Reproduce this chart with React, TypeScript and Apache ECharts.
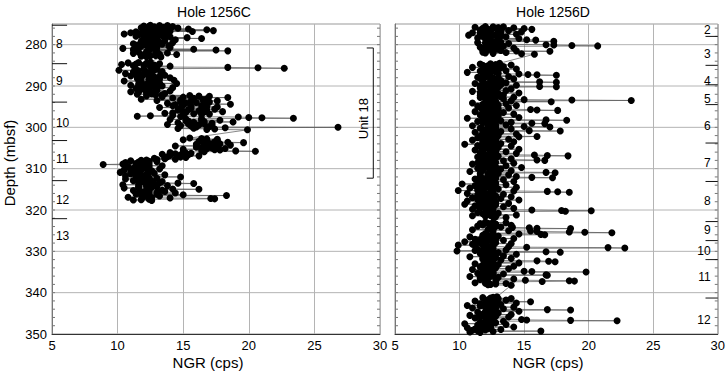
import React, { useEffect, useRef } from "react";
import * as echarts from "echarts";

const FONT = '"Liberation Sans", Arial, Helvetica, sans-serif';

const X_MIN = 5;
const X_MAX = 30;
const X_INTERVAL = 5;
const DEPTH_MIN = 275;
const DEPTH_MAX = 350;
const DEPTH_STEP = 5;

const titles = ["Hole 1256C", "Hole 1256D"];
const gridDepths = [280, 290, 300, 310, 320, 330, 340];
const minorDepths = [276, 278, 280, 282, 284, 286, 288, 290, 292, 294, 296, 298, 300, 302, 304, 306, 308, 310, 312, 314, 316, 318, 320, 322, 324, 326, 328, 330, 332, 334, 336, 338, 340, 342, 344, 346, 348];

// Hole 1256C core boundaries / labels (depth, mbsf)
const coreBoundsC = [275.3, 284.6, 293.9, 303.2, 312.9, 322.1];
const coreLabelsC = ["8", "9", "10", "11", "12", "13"];
const coreLabelDepthsC = [279.8, 288.9, 298.9, 307.7, 317.5, 326.2];

// Hole 1256D core boundaries / labels
const coreBoundsD = [278.0, 285.0, 289.7, 294.5, 303.8, 313.1, 322.8, 327.4, 332.0, 341.3];
const coreLabelsD = ["2", "3", "4", "5", "6", "7", "8", "9", "10", "11", "12"];
const coreLabelDepthsD = [276.4, 282.2, 288.9, 293.1, 299.7, 308.6, 317.9, 324.8, 330.0, 336.2, 346.5];

// Unit bracket
const unitName = "Unit 18";
const unitTop = 280.8;
const unitBottom = 312.3;
const unitLabelDepth = 297.9;

// Hole 1256C: [depth (mbsf), NGR (cps)]
const c8: [number, number][] = [
  [275.3, 12.5], [275.4, 13.8], [275.5, 12.0], [275.6, 14.2], [275.7, 12.8], [275.8, 13.5], [275.9, 11.8], [276.0, 14.6],
  [276.1, 13.0], [276.2, 15.4], [276.3, 12.4], [276.4, 16.8], [276.5, 13.2], [276.6, 17.3], [276.7, 12.6], [276.8, 15.7],
  [276.9, 11.4], [277.0, 13.6], [277.1, 11.0], [277.2, 12.9], [277.4, 10.5], [277.5, 12.2], [277.6, 11.6], [277.8, 13.4],
  [277.9, 12.0], [278.1, 14.0], [278.2, 12.5], [278.3, 15.3], [278.4, 12.8], [278.5, 16.4], [278.6, 13.0], [278.8, 14.4],
  [278.9, 11.9], [279.1, 13.6], [279.3, 12.3], [279.5, 14.2], [279.7, 12.0], [279.9, 13.4], [280.1, 11.5], [280.3, 13.9],
  [280.5, 12.6], [280.7, 14.0], [280.9, 10.4], [281.0, 12.8], [281.1, 15.8], [281.2, 11.2], [281.3, 17.5], [281.4, 12.4],
  [281.5, 18.4], [281.6, 13.0], [281.8, 11.6], [282.0, 13.8], [282.2, 12.2], [282.4, 14.5], [282.6, 12.9], [282.8, 11.8],
  [283.0, 13.3],
];
const c8x: [number, number][] = [
  [275.35, 13.2], [275.55, 12.4], [275.75, 13.9], [275.95, 12.7], [276.15, 13.5], [276.35, 11.9], [276.55, 12.8], [276.75, 14.0],
  [276.95, 12.3], [277.15, 13.1], [277.35, 11.8], [277.55, 12.6], [277.75, 13.8], [277.95, 11.4], [278.15, 12.9], [278.35, 13.6],
  [278.55, 12.2], [278.75, 13.0], [278.95, 12.6], [279.2, 11.8], [279.4, 13.2], [279.6, 12.5], [279.8, 11.2], [280.0, 12.8],
  [280.2, 12.2], [280.4, 11.8], [280.6, 13.0], [280.8, 11.6], [281.7, 12.2], [281.9, 12.9], [282.1, 11.2], [282.3, 13.2],
  [282.5, 11.9], [282.7, 12.5], [282.9, 12.2],
];
const c9: [number, number][] = [
  [284.2, 12.5], [284.4, 10.8], [284.6, 13.2], [284.8, 10.3], [285.0, 12.0], [285.2, 14.0], [285.4, 12.5], [285.5, 18.4],
  [285.6, 20.7], [285.7, 22.7], [285.8, 13.0], [286.0, 11.4], [286.2, 10.1], [286.4, 12.6], [286.6, 11.2], [286.8, 13.3],
  [287.0, 10.6], [287.2, 12.0], [287.4, 13.6], [287.6, 11.0], [287.8, 12.8], [288.0, 14.0], [288.2, 11.5], [288.4, 12.4],
  [288.6, 14.3], [288.8, 10.5], [289.0, 13.0], [289.2, 11.8], [289.4, 14.5], [289.6, 12.2], [289.8, 11.0], [290.0, 13.4],
  [290.2, 12.0], [290.4, 14.2], [290.6, 11.4], [290.8, 13.0], [291.0, 12.2], [291.2, 14.0], [291.4, 11.0], [291.6, 12.8],
  [291.8, 13.6], [292.0, 11.5], [292.2, 12.9],
];
const c9x: [number, number][] = [
  [284.3, 11.6], [284.5, 12.2], [284.7, 11.4], [284.9, 12.8], [285.1, 11.2], [285.3, 13.0], [285.9, 12.0], [286.1, 12.8],
  [286.3, 11.6], [286.5, 13.4], [286.7, 12.2], [286.9, 11.6], [287.1, 12.6], [287.3, 11.4], [287.5, 12.4], [287.7, 13.2],
  [287.9, 11.8], [288.1, 12.6], [288.3, 13.2], [288.5, 11.6], [288.7, 12.4], [288.9, 11.8], [289.1, 12.8], [289.3, 13.2],
  [289.5, 11.6], [289.7, 12.6], [289.9, 12.2], [290.1, 11.6], [290.3, 12.8], [290.5, 13.0], [290.7, 11.8], [290.9, 12.4],
  [291.1, 13.0], [291.3, 12.2], [291.5, 11.6], [291.7, 12.2], [291.9, 12.6], [292.1, 13.4],
];
const c10: [number, number][] = [
  [292.3, 15.5], [292.4, 12.2], [292.5, 17.0], [292.6, 13.4], [292.8, 18.4], [292.9, 14.2], [293.0, 15.8], [293.2, 11.8],
  [293.3, 16.5], [293.5, 13.0], [293.6, 17.6], [293.8, 14.8], [294.0, 16.0], [294.2, 13.8], [294.4, 18.6], [294.6, 15.0],
  [294.8, 14.2], [295.0, 16.8], [295.2, 13.2], [295.4, 15.6], [295.6, 17.4], [295.8, 14.6], [296.0, 16.2], [296.2, 18.0],
  [296.4, 15.2], [296.6, 13.6], [296.8, 17.0], [297.0, 15.0], [297.2, 12.5], [297.3, 11.5], [297.4, 14.8], [297.5, 19.2],
  [297.6, 20.0], [297.7, 21.0], [297.8, 23.4], [297.9, 16.4], [298.1, 14.0], [298.3, 17.8], [298.5, 15.4], [298.7, 18.8],
  [298.9, 14.6], [299.1, 16.6], [299.3, 13.8], [299.5, 17.2], [299.7, 15.6], [299.9, 16.0], [300.0, 26.8], [300.1, 18.2],
  [300.3, 14.6], [300.5, 16.8], [300.6, 19.9],
];
const c10x: [number, number][] = [
  [292.45, 16.2], [292.7, 15.0], [293.1, 16.8], [293.4, 14.8], [293.7, 15.6], [293.9, 17.0], [294.1, 15.2], [294.3, 16.6],
  [294.5, 14.4], [294.7, 16.4], [294.9, 15.6], [295.1, 17.6], [295.3, 14.8], [295.5, 16.4], [295.7, 15.4], [295.9, 16.8],
  [296.1, 15.0], [296.3, 16.6], [296.5, 14.2], [296.7, 15.8], [296.9, 16.4], [297.1, 14.2], [298.0, 15.2], [298.2, 16.4],
  [298.4, 15.2], [298.6, 16.6], [298.8, 15.8], [299.0, 17.2], [299.2, 15.4], [299.4, 16.2], [299.6, 14.8], [299.8, 17.0],
  [300.2, 15.8], [300.4, 17.4],
];
const c11: [number, number][] = [
  [302.6, 15.5], [302.8, 16.8], [303.0, 15.0], [303.2, 17.6], [303.4, 16.2], [303.6, 18.4], [303.7, 19.6], [303.9, 17.0],
  [304.1, 16.0], [304.3, 18.6], [304.5, 14.4], [304.7, 17.4], [304.9, 16.4], [305.1, 18.2], [305.3, 15.0], [305.5, 17.8],
  [305.7, 19.0], [305.8, 20.5], [305.9, 16.6], [306.1, 14.0], [306.3, 15.6], [306.5, 13.4], [306.7, 14.8], [306.9, 16.2],
  [307.1, 13.8], [307.3, 15.2], [307.5, 12.8], [307.7, 14.4], [307.9, 12.2], [308.1, 11.0], [308.3, 13.0], [308.5, 10.6],
  [308.7, 12.4], [308.9, 10.4], [309.0, 8.9], [309.1, 11.6], [309.3, 13.4], [309.5, 10.8], [309.7, 12.0], [309.9, 11.2],
  [310.1, 13.2], [310.3, 10.5], [310.5, 12.6], [310.7, 11.4], [310.9, 10.2], [311.1, 12.8], [311.3, 11.0], [311.5, 13.6],
  [311.7, 10.6], [311.9, 12.2], [312.0, 14.8], [312.1, 11.6], [312.3, 13.0], [312.5, 10.6], [312.7, 12.4], [312.9, 11.2],
  [313.1, 13.4],
];
const c11x: [number, number][] = [
  [302.7, 16.4], [302.9, 17.6], [303.1, 16.6], [303.3, 16.8], [303.5, 17.4], [303.8, 16.6], [304.0, 17.8], [304.2, 17.2],
  [304.4, 16.8], [304.6, 17.6], [304.8, 16.0], [305.0, 17.2], [305.2, 16.8], [305.4, 17.4], [305.6, 16.4], [306.0, 15.0],
  [306.2, 15.2], [306.4, 14.4], [306.6, 15.4], [306.8, 14.0], [307.0, 14.6], [307.2, 14.8], [307.4, 13.6], [307.6, 13.6],
  [307.8, 13.0], [308.0, 11.8], [308.2, 12.4], [308.4, 11.6], [308.6, 12.0], [308.8, 11.4], [309.2, 12.4], [309.4, 11.8],
  [309.6, 12.4], [309.8, 11.6], [310.0, 12.2], [310.2, 11.6], [310.4, 11.8], [310.6, 11.0], [310.8, 12.4], [311.0, 11.6],
  [311.2, 11.4], [311.4, 12.2], [311.6, 11.8], [311.8, 11.4], [312.2, 12.4], [312.4, 11.8], [312.6, 12.2], [312.8, 11.6],
  [313.0, 12.6], [313.2, 11.6],
];
const c12: [number, number][] = [
  [313.3, 12.0], [313.5, 14.6], [313.6, 15.8], [313.7, 12.8], [313.9, 10.4], [314.1, 13.8], [314.3, 11.6], [314.5, 12.6],
  [314.7, 10.5], [314.9, 14.2], [315.0, 16.2], [315.1, 12.2], [315.3, 11.2], [315.5, 13.6], [315.7, 12.0], [315.9, 14.4],
  [316.1, 11.4], [316.3, 15.0], [316.5, 18.3], [316.6, 13.2], [316.8, 12.0], [316.9, 10.8], [317.1, 14.0], [317.2, 17.1],
  [317.3, 17.4], [317.4, 12.4], [317.6, 11.2],
];
const c12x: [number, number][] = [
  [313.4, 13.2], [313.8, 11.6], [314.0, 12.4], [314.2, 12.2], [314.4, 13.0], [314.6, 11.6], [314.8, 12.4], [315.2, 13.4],
  [315.4, 12.4], [315.6, 11.8], [315.8, 13.0], [316.0, 12.4], [316.2, 13.0], [316.4, 11.8], [316.7, 12.4], [317.0, 12.6],
  [317.5, 11.8], [317.7, 12.6],
];

// Hole 1256D: [depth (mbsf), NGR (cps)]
const d2to3: [number, number][] = [
  [275.6, 12.0], [275.7, 13.4], [275.8, 11.2], [275.9, 14.2], [276.0, 12.6], [276.1, 15.0], [276.2, 13.0], [276.3, 15.6],
  [276.5, 11.6], [276.6, 13.8], [276.8, 12.2], [276.9, 14.8], [277.1, 11.0], [277.2, 13.2], [277.4, 12.4], [277.5, 14.4],
  [277.7, 10.7], [277.8, 12.8], [278.0, 11.8], [278.1, 13.6], [278.3, 12.4], [278.5, 14.6], [278.6, 12.0], [278.8, 15.2],
  [278.9, 15.9], [279.0, 13.0], [279.2, 17.3], [279.3, 12.6], [279.5, 11.4], [279.7, 13.8], [279.8, 12.2], [280.0, 16.7],
  [280.1, 17.3], [280.2, 18.7], [280.3, 20.7], [280.4, 13.4], [280.6, 11.6], [280.8, 14.2], [280.9, 12.4], [281.1, 13.0],
  [281.3, 11.8], [281.5, 14.4], [281.6, 17.0], [281.7, 12.6], [281.9, 13.6], [282.0, 12.0], [282.2, 14.8], [282.3, 15.8],
];
const d2to3x: [number, number][] = [
  [275.65, 12.6], [275.85, 13.0], [276.05, 11.8], [276.25, 12.2], [276.45, 13.2], [276.7, 12.4], [276.95, 13.0], [277.15, 12.0],
  [277.35, 11.6], [277.6, 12.8], [277.9, 13.2], [278.2, 12.2], [278.4, 11.4], [278.7, 13.0], [279.1, 12.4], [279.4, 13.2],
  [279.6, 12.0], [279.9, 13.0], [280.5, 12.6], [280.7, 12.0], [281.0, 12.8], [281.2, 12.2], [281.4, 13.2], [281.8, 11.8],
  [282.1, 12.6],
];
const d4to6: [number, number][] = [
  [284.5, 13.1], [284.7, 11.6], [284.9, 14.0], [285.1, 12.2], [285.3, 13.4], [285.5, 11.0], [285.7, 12.8], [285.9, 14.4],
  [286.1, 11.8], [286.3, 13.6], [286.5, 12.4], [286.7, 10.6], [286.9, 13.0], [287.1, 14.6], [287.2, 15.3], [287.3, 16.0],
  [287.4, 17.5], [287.5, 12.0], [287.7, 13.8], [287.9, 11.4], [288.1, 12.6], [288.3, 14.2], [288.5, 11.8], [288.7, 13.2],
  [288.9, 12.4], [289.0, 16.2], [289.1, 17.5], [289.2, 13.6], [289.4, 11.2], [289.6, 12.8], [289.8, 14.4], [290.0, 12.0],
  [290.1, 16.2], [290.2, 17.5], [290.3, 13.0], [290.5, 11.6], [290.7, 14.0], [290.9, 12.6], [291.1, 13.6], [291.3, 11.0],
  [291.5, 12.8], [291.7, 14.6], [291.9, 12.2], [292.1, 13.4], [292.3, 11.6], [292.5, 12.8], [292.7, 14.2], [292.9, 12.0],
  [293.1, 13.4], [293.3, 15.0], [293.4, 18.7], [293.5, 23.3], [293.6, 14.0], [293.8, 17.1], [293.9, 12.4], [294.1, 11.0],
  [294.3, 13.6], [294.5, 12.2], [294.7, 14.4], [294.9, 11.4], [295.1, 12.8], [295.3, 13.8], [295.5, 11.8], [295.7, 15.5],
  [295.8, 16.0], [295.9, 17.6], [296.0, 12.6], [296.2, 11.2], [296.4, 13.4], [296.6, 12.0], [296.8, 14.2], [297.0, 11.6],
  [297.2, 13.0], [297.4, 12.4], [297.6, 14.6], [297.8, 10.6], [298.0, 12.8], [298.2, 16.7], [298.3, 18.3], [298.4, 13.2],
  [298.6, 11.4], [298.8, 14.0], [299.0, 15.6], [299.1, 16.6], [299.2, 12.2], [299.4, 13.6], [299.6, 11.0], [299.8, 15.0],
  [299.9, 17.0], [300.0, 12.8], [300.2, 11.6], [300.4, 14.0], [300.6, 12.4], [300.8, 15.4], [300.9, 17.8], [301.0, 13.2],
  [301.2, 11.2], [301.4, 12.6], [301.6, 14.4], [301.8, 12.0], [302.0, 13.0], [302.2, 16.0], [302.3, 14.6], [302.5, 11.4],
  [302.7, 12.8], [302.9, 13.8], [303.1, 11.0], [303.3, 12.6], [303.5, 14.2], [303.7, 11.8],
];
const d4to6x: [number, number][] = [
  [284.6, 12.4], [284.8, 12.8], [285.0, 11.8], [285.2, 12.6], [285.4, 12.0], [285.6, 13.2], [285.8, 12.2], [286.0, 12.8],
  [286.2, 12.4], [286.4, 11.6], [286.6, 12.8], [286.8, 12.2], [287.0, 11.8], [287.6, 12.4], [287.8, 12.0], [288.0, 13.0],
  [288.2, 11.6], [288.4, 12.4], [288.6, 12.8], [288.8, 11.8], [289.3, 12.4], [289.5, 12.0], [289.7, 13.2], [289.9, 11.6],
  [290.4, 12.4], [290.6, 12.8], [290.8, 11.8], [291.0, 12.4], [291.2, 12.8], [291.4, 12.2], [291.6, 11.6], [291.8, 13.0],
  [292.0, 11.8], [292.2, 12.6], [292.4, 12.2], [292.6, 13.2], [292.8, 11.6], [293.0, 12.4], [293.2, 12.0], [293.7, 12.8],
  [294.0, 12.2], [294.2, 12.6], [294.4, 11.8], [294.6, 13.0], [294.8, 12.4], [295.0, 12.0], [295.2, 11.6], [295.4, 12.6],
  [295.6, 13.0], [296.1, 12.2], [296.3, 12.6], [296.5, 11.8], [296.7, 12.4], [296.9, 13.0], [297.1, 12.6], [297.3, 11.8],
  [297.5, 12.8], [297.7, 12.2], [297.9, 11.8], [298.1, 12.4], [298.5, 12.2], [298.7, 12.8], [298.9, 11.8], [299.3, 12.4],
  [299.5, 12.8], [299.7, 12.2], [300.1, 12.4], [300.3, 12.8], [300.5, 11.8], [300.7, 12.6], [301.1, 12.2], [301.3, 12.8],
  [301.5, 11.8], [301.7, 12.6], [301.9, 12.8], [302.1, 11.6], [302.4, 12.4], [302.6, 12.2], [302.8, 11.8], [303.0, 12.4],
  [303.2, 12.8], [303.4, 11.8], [303.6, 12.6], [303.8, 12.2],
];
const d7to8: [number, number][] = [
  [303.9, 13.2], [304.1, 10.4], [304.3, 12.4], [304.5, 14.0], [304.7, 11.6], [304.9, 13.0], [305.1, 12.2], [305.3, 14.6],
  [305.5, 11.2], [305.7, 12.8], [305.9, 13.6], [306.1, 11.8], [306.3, 14.4], [306.5, 12.4], [306.7, 15.8], [306.8, 16.8],
  [306.9, 18.4], [307.0, 13.0], [307.2, 11.4], [307.4, 12.6], [307.6, 14.0], [307.8, 12.2], [307.9, 16.0], [308.0, 16.6],
  [308.1, 13.4], [308.3, 11.6], [308.5, 12.8], [308.7, 14.2], [308.9, 11.0], [309.1, 12.6], [309.3, 13.6], [309.5, 12.0],
  [309.7, 14.8], [309.9, 11.4], [310.1, 13.2], [310.3, 12.4], [310.5, 14.0], [310.7, 10.8], [310.9, 16.7], [311.0, 17.4],
  [311.1, 13.0], [311.3, 12.2], [311.5, 13.8], [311.7, 11.6], [311.9, 14.4], [312.1, 15.6], [312.2, 17.2], [312.3, 12.8],
  [312.5, 11.2], [312.7, 13.4], [312.9, 12.0], [313.1, 14.2], [313.3, 11.6], [313.5, 12.8], [313.7, 10.2], [313.9, 13.6],
  [314.1, 11.2], [314.3, 12.4], [314.5, 14.4], [314.7, 10.8], [314.9, 13.0], [315.1, 11.8], [315.3, 9.9], [315.4, 14.2],
  [315.5, 16.8], [315.6, 17.6], [315.7, 18.5], [315.8, 12.6], [316.0, 10.6], [316.2, 13.4], [316.4, 11.4], [316.6, 12.8],
  [316.8, 14.0], [317.0, 11.0], [317.2, 13.2], [317.4, 12.2], [317.6, 14.6], [317.8, 10.6], [318.0, 12.8], [318.2, 11.6],
  [318.4, 13.8], [318.6, 10.4], [318.8, 12.4], [319.0, 11.2], [319.2, 13.4], [319.4, 12.0], [319.6, 14.2], [319.8, 11.0],
  [320.0, 15.6], [320.1, 17.9], [320.2, 20.2], [320.3, 18.2], [320.4, 12.6], [320.6, 11.4], [320.8, 13.0], [321.0, 12.2],
  [321.2, 14.4], [321.4, 11.0], [321.6, 12.8], [321.8, 13.6],
];
const d7to8x: [number, number][] = [
  [304.0, 12.0], [304.2, 12.8], [304.4, 11.4], [304.6, 12.6], [304.8, 12.2], [305.0, 11.8], [305.2, 12.8], [305.4, 12.4],
  [305.6, 11.8], [305.8, 12.4], [306.0, 12.8], [306.2, 11.6], [306.4, 12.8], [306.6, 12.0], [307.1, 12.4], [307.3, 11.8],
  [307.5, 12.8], [307.7, 12.2], [308.2, 12.4], [308.4, 12.0], [308.6, 11.4], [308.8, 12.6], [309.0, 12.2], [309.2, 11.6],
  [309.4, 12.4], [309.6, 12.8], [309.8, 12.2], [310.0, 11.8], [310.2, 12.6], [310.4, 11.8], [310.6, 12.4], [310.8, 12.8],
  [311.2, 11.6], [311.4, 12.4], [311.6, 12.8], [311.8, 12.2], [312.0, 12.6], [312.4, 11.8], [312.6, 12.4], [312.8, 11.4],
  [313.0, 12.6], [313.2, 12.2], [313.4, 11.8], [313.6, 12.4], [313.8, 11.6], [314.0, 12.2], [314.2, 11.8], [314.4, 12.8],
  [314.6, 12.0], [314.8, 11.6], [315.0, 12.4], [315.2, 11.4], [315.9, 11.8], [316.1, 12.2], [316.3, 12.0], [316.5, 11.6],
  [316.7, 12.4], [316.9, 12.2], [317.1, 12.6], [317.3, 11.8], [317.5, 11.4], [317.7, 12.2], [317.9, 11.8], [318.1, 12.4],
  [318.3, 12.0], [318.5, 11.6], [318.7, 12.8], [318.9, 12.2], [319.1, 11.8], [319.3, 12.4], [319.5, 11.6], [319.7, 12.6],
  [319.9, 12.2], [320.5, 12.0], [320.7, 12.4], [320.9, 11.8], [321.1, 12.6], [321.3, 12.4], [321.5, 12.0], [321.7, 12.6],
];
const d9to11: [number, number][] = [
  [322.9, 12.0], [323.1, 13.6], [323.3, 11.6], [323.5, 12.8], [323.7, 14.0], [323.9, 11.4], [324.1, 13.2], [324.2, 14.1],
  [324.3, 15.4], [324.4, 16.0], [324.5, 18.6], [324.6, 12.4], [324.8, 11.0], [325.0, 13.8], [325.1, 15.5], [325.2, 16.0],
  [325.3, 18.5], [325.4, 19.7], [325.5, 21.8], [325.6, 12.6], [325.8, 14.6], [325.9, 16.3], [326.0, 16.6], [326.1, 11.8],
  [326.3, 13.0], [326.5, 10.8], [326.7, 12.4], [326.9, 14.2], [327.1, 11.2], [327.3, 13.4], [327.5, 12.0], [327.7, 10.4],
  [327.9, 12.8], [328.1, 14.0], [328.3, 11.0], [328.5, 9.9], [328.7, 12.6], [328.9, 13.8], [329.0, 15.2], [329.1, 21.5],
  [329.2, 22.8], [329.3, 12.2], [329.5, 11.4], [329.7, 13.6], [329.9, 9.8], [330.0, 12.6], [330.1, 16.7], [330.2, 17.8],
  [330.3, 13.0], [330.5, 11.6], [330.7, 14.4], [330.9, 12.2], [331.1, 13.4], [331.3, 10.8], [331.5, 12.8], [331.7, 14.0],
  [331.9, 11.8], [332.1, 13.2], [332.3, 16.0], [332.4, 16.9], [332.5, 17.4], [332.6, 12.4], [332.8, 14.6], [333.0, 11.2],
  [333.2, 13.0], [333.4, 12.0], [333.6, 14.2], [333.8, 11.6], [334.0, 12.8], [334.2, 13.8], [334.4, 11.0], [334.6, 12.4],
  [334.8, 15.0], [334.9, 15.6], [335.0, 19.8], [335.1, 12.6], [335.3, 11.4], [335.5, 13.4], [335.7, 16.7], [335.8, 16.8],
  [335.9, 12.2], [336.1, 10.8], [336.3, 13.0], [336.5, 11.6], [336.7, 14.2], [336.9, 12.0], [337.0, 15.1], [337.1, 18.5],
  [337.2, 18.9], [337.3, 16.4], [337.4, 12.8], [337.6, 11.2], [337.8, 13.6], [338.0, 12.4], [338.2, 14.0],
];
const d9to11x: [number, number][] = [
  [323.0, 12.6], [323.2, 12.2], [323.4, 12.8], [323.6, 11.8], [323.8, 12.4], [324.0, 12.8], [324.7, 12.2], [324.9, 12.6],
  [325.7, 12.0], [326.2, 12.4], [326.4, 11.8], [326.6, 12.6], [326.8, 12.0], [327.0, 12.8], [327.2, 11.6], [327.4, 12.4],
  [327.6, 11.4], [327.8, 12.0], [328.0, 11.6], [328.2, 12.6], [328.4, 11.8], [328.6, 11.2], [328.8, 12.2], [329.4, 12.6],
  [329.6, 11.8], [329.8, 11.2], [330.4, 12.2], [330.6, 12.8], [330.8, 11.8], [331.0, 12.4], [331.2, 12.0], [331.4, 12.6],
  [331.6, 11.8], [331.8, 12.4], [332.0, 12.0], [332.2, 12.6], [332.7, 12.0], [332.9, 12.6], [333.1, 12.2], [333.3, 11.8],
  [333.5, 12.6], [333.7, 12.2], [333.9, 12.4], [334.1, 11.8], [334.3, 12.6], [334.5, 12.2], [334.7, 11.8], [335.2, 12.2],
  [335.4, 12.6], [335.6, 11.8], [336.0, 12.4], [336.2, 11.6], [336.4, 12.2], [336.6, 12.8], [336.8, 11.6], [337.5, 12.2],
  [337.7, 12.0], [337.9, 12.8], [338.1, 12.2],
];
const d12: [number, number][] = [
  [341.0, 12.9], [341.2, 11.8], [341.4, 14.0], [341.6, 12.4], [341.8, 13.6], [342.0, 11.2], [342.2, 15.5], [342.3, 12.8],
  [342.5, 14.4], [342.7, 11.6], [342.9, 13.2], [343.1, 10.6], [343.3, 12.6], [343.5, 14.2], [343.7, 11.0], [343.9, 13.4],
  [344.1, 16.8], [344.2, 18.6], [344.3, 12.2], [344.5, 14.6], [344.7, 11.4], [344.9, 13.0], [345.1, 12.0], [345.3, 14.0],
  [345.5, 10.8], [345.7, 12.8], [345.9, 13.8], [346.1, 11.2], [346.3, 12.6], [346.5, 14.8], [346.6, 15.2], [346.7, 18.6],
  [346.8, 22.2], [346.9, 13.4], [347.1, 11.6], [347.3, 12.8], [347.5, 10.4], [347.7, 13.6], [347.9, 11.8], [348.1, 12.4],
  [348.3, 14.2], [348.5, 10.6], [348.7, 12.2], [348.9, 13.2], [349.1, 11.0], [349.3, 16.3], [349.4, 12.6], [349.5, 10.8],
];
const d12x: [number, number][] = [
  [341.1, 12.6], [341.3, 12.4], [341.5, 13.0], [341.7, 12.2], [341.9, 12.8], [342.1, 12.4], [342.4, 12.0], [342.6, 12.8],
  [342.8, 12.4], [343.0, 12.0], [343.2, 11.6], [343.4, 12.4], [343.6, 12.0], [343.8, 12.8], [344.0, 12.2], [344.4, 12.6],
  [344.6, 12.0], [344.8, 12.4], [345.0, 12.8], [345.2, 11.8], [345.4, 12.6], [345.6, 12.2], [345.8, 11.6], [346.0, 12.4],
  [346.2, 12.0], [346.4, 12.6], [347.0, 12.2], [347.2, 12.6], [347.4, 11.8], [347.6, 12.2], [347.8, 11.4], [348.0, 12.0],
  [348.2, 11.6], [348.4, 12.4], [348.6, 11.8], [348.8, 11.2], [349.0, 12.0], [349.2, 11.4], [349.6, 11.6],
];

const byDepth = (a: [number, number], b: [number, number]) => a[0] - b[0];
const hole1256C = [...c8, ...c8x, ...c9, ...c9x, ...c10, ...c10x, ...c11, ...c11x, ...c12, ...c12x].sort(byDepth);
const hole1256D = [...d2to3, ...d2to3x, ...d4to6, ...d4to6x, ...d7to8, ...d7to8x, ...d9to11, ...d9to11x, ...d12, ...d12x].sort(byDepth);

const GRID_COLOR = "#b4b4b4";

function buildOption() {
  const toXY = (arr: [number, number][]) => arr.map(([d, v]) => [v, d]);

  const gridLineSeries = (gi: number) => ({
    type: "custom",
    xAxisIndex: gi,
    yAxisIndex: gi,
    silent: true,
    z: 1,
    data: gridDepths.map((d) => [X_MIN, d]),
    renderItem: (_p: any, api: any) => {
      const a = api.coord([X_MIN, api.value(1)]);
      const b = api.coord([X_MAX, api.value(1)]);
      return {
        type: "line",
        shape: { x1: a[0], y1: a[1], x2: b[0], y2: b[1] },
        style: { stroke: GRID_COLOR, lineWidth: 1 },
      };
    },
  });

  const minorTickSeries = (gi: number) => ({
    type: "custom",
    xAxisIndex: gi,
    yAxisIndex: gi,
    silent: true,
    z: 3,
    data: minorDepths.map((d) => [X_MIN, d]),
    renderItem: (_p: any, api: any) => {
      const a = api.coord([X_MIN, api.value(1)]);
      const b = api.coord([X_MAX, api.value(1)]);
      return {
        type: "group",
        children: [
          { type: "line", shape: { x1: a[0], y1: a[1], x2: a[0] + 3, y2: a[1] }, style: { stroke: "#777", lineWidth: 1 } },
          { type: "line", shape: { x1: b[0] - 3, y1: b[1], x2: b[0], y2: b[1] }, style: { stroke: "#777", lineWidth: 1 } },
        ],
      };
    },
  });

  const boundarySeries = (gi: number, depths: number[], fromX: number, toX: number) => ({
    type: "custom",
    xAxisIndex: gi,
    yAxisIndex: gi,
    silent: true,
    z: 4,
    data: depths.map((d) => [fromX, d]),
    renderItem: (_p: any, api: any) => {
      const a = api.coord([fromX, api.value(1)]);
      const b = api.coord([toX, api.value(1)]);
      return {
        type: "line",
        shape: { x1: a[0], y1: a[1], x2: b[0], y2: b[1] },
        style: { stroke: "#111", lineWidth: 1 },
      };
    },
  });

  const labelSeries = (gi: number, depths: number[], labels: string[], atX: number, align: string) => ({
    type: "custom",
    xAxisIndex: gi,
    yAxisIndex: gi,
    silent: true,
    z: 4,
    data: depths.map((d) => [atX, d]),
    renderItem: (p: any, api: any) => {
      const a = api.coord([atX, api.value(1)]);
      return {
        type: "text",
        x: a[0],
        y: a[1],
        style: {
          text: labels[p.dataIndex],
          fill: "#000",
          fontSize: 12,
          fontFamily: FONT,
          align,
          verticalAlign: "middle",
        },
      };
    },
  });

  const bracketSeries = {
    type: "custom",
    xAxisIndex: 0,
    yAxisIndex: 0,
    silent: true,
    z: 4,
    data: [[X_MAX, unitTop, unitBottom, unitLabelDepth]],
    renderItem: (_p: any, api: any) => {
      const bx = 29.49;
      const tx = 28.99;
      const top = api.coord([bx, api.value(1)]);
      const bot = api.coord([bx, api.value(2)]);
      const tl = api.coord([tx, api.value(1)]);
      const lab = api.coord([28.78, api.value(3)]);
      return {
        type: "group",
        children: [
          {
            type: "polyline",
            shape: { points: [[tl[0], top[1]], [top[0], top[1]], [bot[0], bot[1]], [tl[0], bot[1]]] },
            style: { stroke: "#111", lineWidth: 1, fill: "none" },
          },
          {
            type: "text",
            x: lab[0],
            y: lab[1],
            rotation: Math.PI / 2,
            style: {
              text: unitName,
              fill: "#000",
              fontSize: 13,
              fontFamily: FONT,
              align: "center",
              verticalAlign: "middle",
            },
          },
        ],
      };
    },
  };

  const dataSeries = (gi: number, arr: [number, number][]) => ({
    type: "line",
    xAxisIndex: gi,
    yAxisIndex: gi,
    data: toXY(arr),
    symbol: "circle",
    symbolSize: 7,
    showSymbol: true,
    showAllSymbol: true,
    silent: true,
    z: 2,
    itemStyle: { color: "#000", borderWidth: 0 },
    lineStyle: { color: "#555", width: 0.7 },
  });

  const xAxis = (gi: number) => ({
    type: "value",
    gridIndex: gi,
    min: X_MIN,
    max: X_MAX,
    interval: X_INTERVAL,
    axisLine: { show: true, onZero: false, lineStyle: { color: "#333", width: 1 } },
    axisTick: { show: false },
    axisLabel: { fontSize: 13, color: "#000", fontFamily: FONT, margin: 5 },
    splitLine: { show: true, lineStyle: { color: GRID_COLOR, width: 1 } },
  });

  const yAxis = (gi: number) => ({
    type: "value",
    gridIndex: gi,
    inverse: true,
    min: DEPTH_MIN,
    max: DEPTH_MAX,
    interval: DEPTH_STEP,
    axisLine: { show: true, onZero: false, lineStyle: { color: "#777", width: 1 } },
    axisTick: { show: false },
    axisLabel: {
      show: gi === 0,
      fontSize: 13,
      color: "#000",
      fontFamily: FONT,
      margin: 5,
      formatter: (v: number) => (v % 10 === 0 ? String(v) : ""),
    },
    splitLine: { show: false },
  });

  return {
    animation: false,
    backgroundColor: "#fff",
    grid: [
      { left: 52, right: 348, top: 24, bottom: 41, show: true, borderColor: "#999", borderWidth: 1 },
      { left: 395, right: 6, top: 24, bottom: 41, show: true, borderColor: "#999", borderWidth: 1 },
    ],
    xAxis: [xAxis(0), xAxis(1)],
    yAxis: [yAxis(0), yAxis(1)],
    graphic: [
      { type: "text", x: 214, y: 12, style: { text: titles[0], fontSize: 14, fontFamily: FONT, fill: "#000", align: "center", verticalAlign: "middle" } },
      { type: "text", x: 553, y: 12, style: { text: titles[1], fontSize: 14, fontFamily: FONT, fill: "#000", align: "center", verticalAlign: "middle" } },
      { type: "text", x: 208, y: 362, style: { text: "NGR (cps)", fontSize: 15, fontFamily: FONT, fill: "#000", align: "center", verticalAlign: "middle" } },
      { type: "text", x: 548, y: 362, style: { text: "NGR (cps)", fontSize: 15, fontFamily: FONT, fill: "#000", align: "center", verticalAlign: "middle" } },
      { type: "text", x: 9, y: 163, rotation: Math.PI / 2, style: { text: "Depth (mbsf)", fontSize: 15, fontFamily: FONT, fill: "#000", align: "center", verticalAlign: "middle" } },
    ],
    series: [
      gridLineSeries(0),
      gridLineSeries(1),
      dataSeries(0, hole1256C),
      dataSeries(1, hole1256D),
      minorTickSeries(0),
      minorTickSeries(1),
      boundarySeries(0, coreBoundsC, X_MIN, 6.15),
      boundarySeries(1, coreBoundsD, 29.05, X_MAX),
      labelSeries(0, coreLabelDepthsC, coreLabelsC, 5.3, "left"),
      labelSeries(1, coreLabelDepthsD, coreLabelsD, 29.45, "right"),
      bracketSeries,
    ],
  };
}

export default function App() {
  const ref = useRef<HTMLDivElement>(null);
  useEffect(() => {
    if (!ref.current) return;
    const chart = echarts.init(ref.current, null, { renderer: "svg" });
    chart.setOption(buildOption() as any);
    return () => chart.dispose();
  }, []);
  return (
    <div
      ref={ref}
      style={{ position: "fixed", left: 0, top: 0, width: 728, height: 375, background: "#fff" }}
    />
  );
}
